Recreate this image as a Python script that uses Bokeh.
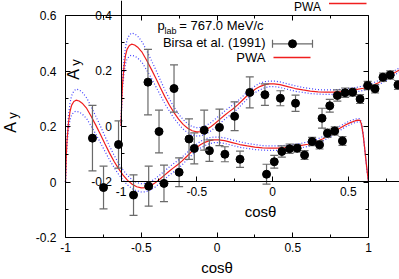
import numpy as np
from bokeh.plotting import figure
from bokeh.models import Range1d, LinearAxis, FixedTicker, Label
from bokeh.embed import file_html
from bokeh.resources import INLINE

# ---------------- data: Birsa et al. (1991), p_lab = 767.0 MeV/c ----------------
cos_theta = [-0.822, -0.749, -0.650, -0.551, -0.451, -0.350, -0.250, -0.150, -0.050,
             0.052, 0.152, 0.327, 0.378, 0.428, 0.479, 0.529, 0.578, 0.628, 0.677,
             0.729, 0.777, 0.828]
a_y = [0.158, -0.020, 0.135, -0.047, -0.015, -0.005, 0.035, 0.121, 0.113,
       0.100, 0.082, 0.028, 0.073, 0.110, 0.120, 0.122, 0.097, 0.146, 0.134,
       0.176, 0.184, 0.148]
a_y_err = [0.118, 0.077, 0.085, 0.073, 0.072, 0.066, 0.052, 0.056, 0.039,
           0.027, 0.029, 0.036, 0.023, 0.020, 0.017, 0.014, 0.016, 0.015, 0.015,
           0.015, 0.015, 0.016]

# ---------------- PWA curve and its error band ----------------
pwa_cos = [-1.0, -0.995, -0.99, -0.98, -0.97, -0.96, -0.945, -0.93, -0.91, -0.89,
           -0.86, -0.83, -0.80, -0.77, -0.74, -0.71, -0.68, -0.65, -0.62, -0.59,
           -0.56, -0.53, -0.50, -0.47, -0.44, -0.41, -0.38, -0.35, -0.32, -0.29,
           -0.26, -0.23, -0.20, -0.17, -0.14, -0.11, -0.08, -0.05, -0.02, 0.01,
           0.05, 0.10, 0.15, 0.20, 0.25, 0.30, 0.35, 0.40, 0.45, 0.50,
           0.55, 0.60, 0.65, 0.70, 0.75, 0.80, 0.85, 0.88, 0.91, 0.93,
           0.945, 0.955, 0.965, 0.975, 0.985, 0.993, 1.0]
pwa_ay = [0.000, 0.090, 0.150, 0.215, 0.255, 0.276, 0.290, 0.295, 0.292, 0.284,
          0.265, 0.236, 0.205, 0.172, 0.138, 0.105, 0.075, 0.048, 0.025, 0.006,
          -0.008, -0.017, -0.021, -0.020, -0.014, -0.004, 0.009, 0.023, 0.037, 0.050,
          0.062, 0.076, 0.092, 0.108, 0.122, 0.134, 0.143, 0.149, 0.152, 0.152,
          0.149, 0.142, 0.135, 0.130, 0.126, 0.123, 0.122, 0.122, 0.124, 0.127,
          0.131, 0.136, 0.144, 0.156, 0.172, 0.190, 0.206, 0.214, 0.220, 0.223,
          0.222, 0.205, 0.170, 0.120, 0.068, 0.030, 0.000]
pwa_hi = [0.000, 0.100, 0.165, 0.240, 0.285, 0.311, 0.328, 0.335, 0.332, 0.324,
          0.303, 0.271, 0.237, 0.202, 0.165, 0.130, 0.097, 0.068, 0.043, 0.023,
          0.008, -0.002, -0.006, -0.005, 0.001, 0.011, 0.024, 0.038, 0.052, 0.065,
          0.077, 0.090, 0.105, 0.121, 0.134, 0.146, 0.155, 0.160, 0.162, 0.162,
          0.159, 0.152, 0.145, 0.139, 0.135, 0.131, 0.130, 0.130, 0.132, 0.135,
          0.139, 0.144, 0.152, 0.164, 0.180, 0.198, 0.213, 0.221, 0.226, 0.229,
          0.228, 0.210, 0.175, 0.124, 0.071, 0.032, 0.000]
pwa_lo = [0.000, 0.080, 0.135, 0.190, 0.225, 0.241, 0.252, 0.255, 0.252, 0.245,
          0.228, 0.201, 0.173, 0.142, 0.111, 0.080, 0.053, 0.028, 0.007, -0.011,
          -0.024, -0.032, -0.036, -0.035, -0.029, -0.019, -0.006, 0.008, 0.022, 0.035,
          0.047, 0.062, 0.079, 0.095, 0.110, 0.122, 0.131, 0.138, 0.142, 0.142,
          0.139, 0.132, 0.125, 0.121, 0.117, 0.115, 0.114, 0.114, 0.116, 0.119,
          0.123, 0.128, 0.136, 0.148, 0.164, 0.182, 0.199, 0.207, 0.214, 0.217,
          0.216, 0.200, 0.165, 0.116, 0.065, 0.028, 0.000]

# ---------------- ticks ----------------
x_tick_vals = [-1, -0.5, 0, 0.5, 1]
x_tick_labels = ["-1", "-0.5", "0", "0.5", "1"]
x_minor_vals = [-0.75, -0.25, 0.25, 0.75]
y_tick_vals = [-0.2, 0, 0.2, 0.4, 0.6]
y_tick_labels = ["-0.2", "0", "0.2", "0.4", "0.6"]
y_minor_vals = [-0.1, 0.1, 0.3, 0.5]

# ---------------- layout (pixels) ----------------
W, H = 399, 279
PAGE = 0                     # the page template puts the plot at the top-left corner
PX, PY = 151.5, 277.5        # pixels per unit
BX0, BY0 = 65.0, 181.5       # page position of (cos=-1, A=0) for the back panel
DX, DY = 55.5, -56.0         # shift of the front panel
FONT = "Liberation Sans"
RED = "#f01e1e"
BLUE = "#4040ff"
GREY = "#6a6a6a"

def back_xy(X, Y):
    return -1 + (X - BX0) / PX, (BY0 - Y) / PY

def front_xy(X, Y):
    return back_xy(X - DX, Y - DY)

bx0, by1 = back_xy(PAGE, PAGE)
bx1, by0 = back_xy(PAGE + W, PAGE + H)
fx0, fy1 = front_xy(PAGE, PAGE)
fx1, fy0 = front_xy(PAGE + W, PAGE + H)

p = figure(width=W, height=H, output_backend="svg", toolbar_location=None,
           x_range=Range1d(bx0, bx1), y_range=Range1d(by0, by1),
           x_axis_type=None, y_axis_type=None, min_border=0)
p.extra_x_ranges = {"front": Range1d(fx0, fx1)}
p.extra_y_ranges = {"front": Range1d(fy0, fy1)}
p.outline_line_color = None
p.background_fill_color = "white"
p.border_fill_color = "white"

xt = dict(zip(x_tick_vals, x_tick_labels))
yt = dict(zip(y_tick_vals, y_tick_labels))


def axis(side, rn, loc, vals, minor, bounds, labels, title=None):
    ax = LinearAxis(x_range_name=rn, y_range_name=rn, fixed_location=loc,
                    bounds=bounds, ticker=FixedTicker(ticks=vals, minor_ticks=minor))
    ax.axis_line_color = "black"
    ax.major_tick_line_color = "black"
    ax.minor_tick_line_color = "black"
    ax.major_tick_in, ax.major_tick_out = 5, 0
    ax.minor_tick_in, ax.minor_tick_out = 3, 0
    if labels is None:
        ax.major_label_text_color = None
    else:
        ax.major_label_overrides = labels
        ax.major_label_text_font = FONT
        ax.major_label_text_font_size = "12px"
        ax.major_label_text_color = "black"
        ax.major_label_standoff = 9 if side in ("left", "right") else 5
    if title:
        ax.axis_label = title
        ax.axis_label_text_font = FONT
        ax.axis_label_text_font_size = "15px"
        ax.axis_label_text_font_style = "normal"
        ax.axis_label_text_color = "black"
        ax.axis_label_standoff = 4
    p.add_layout(ax, side)


# curves and data for both panels (back = default ranges, front = shifted copy)
for rn in ("default", "front"):
    kw = dict(x_range_name=rn, y_range_name=rn)
    p.line(pwa_cos, pwa_hi, line_color=BLUE, line_width=1.2, line_dash="1 2", **kw)
    p.line(pwa_cos, pwa_lo, line_color=BLUE, line_width=1.2, line_dash="1 2", **kw)
    p.line(pwa_cos, pwa_ay, line_color=RED, line_width=1.2, **kw)
    lo = np.array(a_y) - np.array(a_y_err)
    hi = np.array(a_y) + np.array(a_y_err)
    p.segment(x0=cos_theta, y0=lo, x1=cos_theta, y1=hi, line_color=GREY, line_width=1.2, **kw)
    p.scatter(cos_theta, lo, marker="dash", size=8, line_color=GREY, line_width=1.2, **kw)
    p.scatter(cos_theta, hi, marker="dash", size=8, line_color=GREY, line_width=1.2, **kw)
    p.scatter(cos_theta, a_y, marker="circle", size=8, fill_color="black", line_color="black", **kw)

# back panel frame and axes
axis("left", "default", -1, y_tick_vals, y_minor_vals, (-0.2, 0.6), yt)
axis("right", "default", 1, y_tick_vals, y_minor_vals, (-0.2, 0.6), None)
axis("below", "default", -0.2, x_tick_vals, x_minor_vals, (-1, 1), xt, "cosθ")
axis("above", "default", 0.6, x_tick_vals, x_minor_vals, (-1, 1), None)
# front panel axes
axis("left", "front", -1, y_tick_vals, y_minor_vals, (-0.2, 0.6), yt)
axis("below", "front", -0.2, x_tick_vals, x_minor_vals, (-1, 1), xt, "cosθ")


def label(text, xy, rn, size, align="left", baseline="middle", angle=0.0):
    p.add_layout(Label(x=xy[0], y=xy[1], x_range_name=rn, y_range_name=rn, text=text,
                       text_font=FONT, text_font_size=size, text_color="black",
                       text_align=align, text_baseline=baseline, angle=angle))


# y axis titles  A_y
label("A", back_xy(10, 127), "default", "16px", "center", "middle", np.pi / 2)
label("y", back_xy(12, 115), "default", "13px", "center", "middle", np.pi / 2)
label("A", back_xy(73, 74), "default", "16px", "center", "middle", np.pi / 2)
label("y", back_xy(75, 62), "default", "13px", "center", "middle", np.pi / 2)

# front legend
label("p", front_xy(157, 25), "front", "13px", "left")
label("lab", front_xy(164, 30), "front", "9px", "left")
label("= 767.0 MeV/c", front_xy(263, 25), "front", "13px", "right")
label("Birsa et al. (1991)", front_xy(265, 42), "front", "13px", "right")
label("PWA", front_xy(265, 57), "front", "13px", "right")
# legend entry of a further copy, at the very top edge
label("PWA", front_xy(320.5, 6), "front", "12px", "right")

kwf = dict(x_range_name="front", y_range_name="front")
lx0, ly1 = front_xy(272, 43.3)
lx1, _ = front_xy(312, 43.3)
lxm, _ = front_xy(292, 43.3)
p.segment(x0=[lx0], y0=[ly1], x1=[lx1], y1=[ly1], line_color=GREY, line_width=1.2, **kwf)
p.scatter([lx0, lx1], [ly1, ly1], marker="dash", angle=np.pi / 2, size=8,
          line_color=GREY, line_width=1.2, **kwf)
p.scatter([lxm], [ly1], marker="circle", size=8, fill_color="black", line_color="black", **kwf)
rx0, ry = front_xy(273, 57)
rx1, _ = front_xy(310, 57)
p.segment(x0=[rx0], y0=[ry], x1=[rx1], y1=[ry], line_color=RED, line_width=1.5, **kwf)
tx0, ty = front_xy(328.5, 3)
tx1, _ = front_xy(366, 3)
p.segment(x0=[tx0], y0=[ty], x1=[tx1], y1=[ty], line_color=RED, line_width=1.5, **kwf)

open("out.html", "w").write(file_html(p, INLINE))
